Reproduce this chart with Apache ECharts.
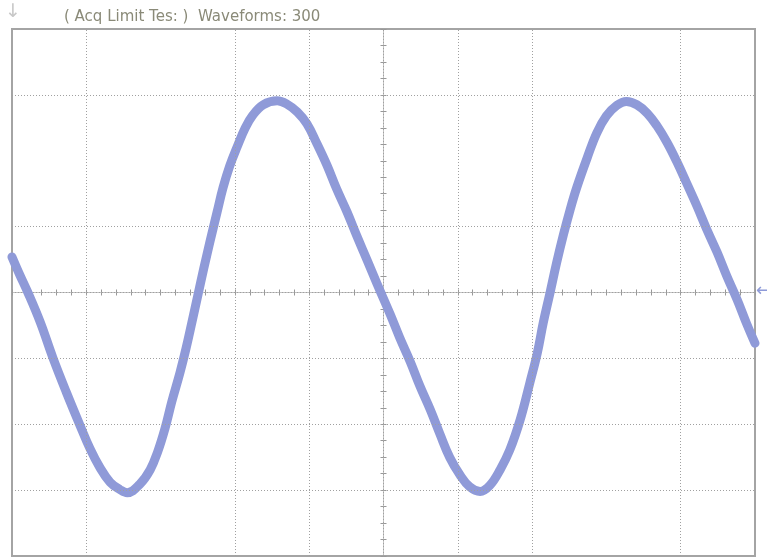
<!DOCTYPE html>
<html>
<head>
<meta charset="utf-8">
<script src="https://cdn.jsdelivr.net/npm/echarts@6/dist/echarts.min.js"></script>
<style>
html,body{margin:0;padding:0;background:#fff;}
#chart{width:767px;height:557px;}
</style>
</head>
<body>
<div id="chart"></div>
<script>
// Time position in horizontal divisions (centre = 0)
var timeDiv = [-5.00,-4.90,-4.79,-4.62,-4.45,-4.27,-4.08,-3.95,-3.82,-3.68,-3.55,-3.45,-3.28,-3.14,-3.04,-2.94,-2.85,-2.74,-2.66,-2.58,-2.50,-2.42,-2.34,-2.24,-2.16,-2.07,-1.97,-1.86,-1.76,-1.62,-1.43,-1.30,-1.16,-1.03,-0.90,-0.76,-0.63,-0.49,-0.36,-0.22,-0.09,0.09,0.22,0.36,0.49,0.63,0.76,0.89,1.03,1.16,1.30,1.43,1.57,1.70,1.84,1.97,2.07,2.15,2.24,2.33,2.42,2.51,2.60,2.74,2.87,3.00,3.14,3.27,3.41,3.55,3.68,3.82,3.95,4.08,4.22,4.35,4.49,4.62,4.76,4.89,5.00];
// Signal level in vertical divisions (centre = 0)
var levelDiv = [0.54,0.28,0.01,-0.45,-0.99,-1.51,-2.03,-2.37,-2.65,-2.88,-2.99,-3.04,-2.91,-2.69,-2.42,-2.06,-1.66,-1.22,-0.86,-0.46,-0.05,0.36,0.75,1.22,1.59,1.92,2.21,2.50,2.69,2.85,2.91,2.86,2.74,2.56,2.27,1.93,1.57,1.22,0.86,0.49,0.14,-0.33,-0.69,-1.05,-1.42,-1.78,-2.15,-2.50,-2.77,-2.95,-3.02,-2.93,-2.69,-2.39,-1.93,-1.37,-0.92,-0.46,-0.01,0.45,0.87,1.25,1.59,2.04,2.42,2.68,2.84,2.90,2.85,2.72,2.53,2.27,1.98,1.66,1.31,0.96,0.61,0.25,-0.11,-0.48,-0.77];
// Visible graticule lines (some are not drawn on the screen)
var vGridDivs = [-4,-2,-1,1,2,4];
var hGridDivs = [3,1,-1,-2,-3];
var titleText = '( Acq Limit Tes: )  Waveforms: 300';

var gridColor = '#a0a0a0';
var tickColor = '#989898';

function xAx(inside){
  return {
    type:'value', min:-5, max:5, interval:1, position:'bottom',
    axisLine:{show:true,onZero:true,lineStyle:{color:gridColor,width:1,type:[1,2]}},
    axisTick:{show:true,inside:inside,length:3,lineStyle:{color:tickColor,width:1}},
    minorTick:{show:true,splitNumber:5,length:3,lineStyle:{color:tickColor,width:1}},
    axisLabel:{show:false}, splitLine:{show:false}, minorSplitLine:{show:false}
  };
}
function yAx(inside){
  return {
    type:'value', min:-4, max:4, interval:1, position:'left',
    axisLine:{show:true,onZero:true,lineStyle:{color:gridColor,width:1,type:[1,2]}},
    axisTick:{show:true,inside:inside,length:3,lineStyle:{color:tickColor,width:1}},
    minorTick:{show:true,splitNumber:4,length:3,lineStyle:{color:tickColor,width:1}},
    axisLabel:{show:false}, splitLine:{show:false}, minorSplitLine:{show:false}
  };
}

var wave = timeDiv.map(function(t,i){return [t, levelDiv[i]];});
var gridMarks = vGridDivs.map(function(v){return {xAxis:v};})
  .concat(hGridDivs.map(function(v){return {yAxis:v};}));

var chart = echarts.init(document.getElementById('chart'), null, {renderer:'canvas'});
chart.setOption({
  animation:false,
  backgroundColor:'#ffffff',
  title:{
    text:titleText, left:59, top:5,
    textStyle:{fontFamily:'DejaVu Sans',fontSize:15,fontWeight:'normal',color:'#8a8a78'}
  },
  grid:{left:12,right:12,top:29,bottom:1,show:true,borderColor:'#a4a4a4',borderWidth:2,backgroundColor:'#ffffff'},
  xAxis:[xAx(true), xAx(false)],
  yAxis:[yAx(true), yAx(false)],
  graphic:[
    {type:'text', left:5, top:3, style:{text:'↓', fill:'#c8c8c8', font:'19px DejaVu Sans'}},
    {type:'text', right:-4, top:282, style:{text:'←', fill:'#8e9ad8', font:'18px DejaVu Sans'}}
  ],
  series:[
    {
      type:'line', data:[], xAxisIndex:0, yAxisIndex:0, z:1, silent:true,
      markLine:{silent:true, symbol:['none','none'], label:{show:false},
        lineStyle:{color:gridColor,width:1,type:[1,2]}, emphasis:{disabled:true},
        data:gridMarks}
    },
    {
      type:'line', data:wave, xAxisIndex:0, yAxisIndex:0, z:3,
      showSymbol:false, smooth:0.4, silent:true,
      lineStyle:{color:'#8f9ad8',width:9,cap:'round',join:'round'}
    }
  ]
});
</script>
</body>
</html>
